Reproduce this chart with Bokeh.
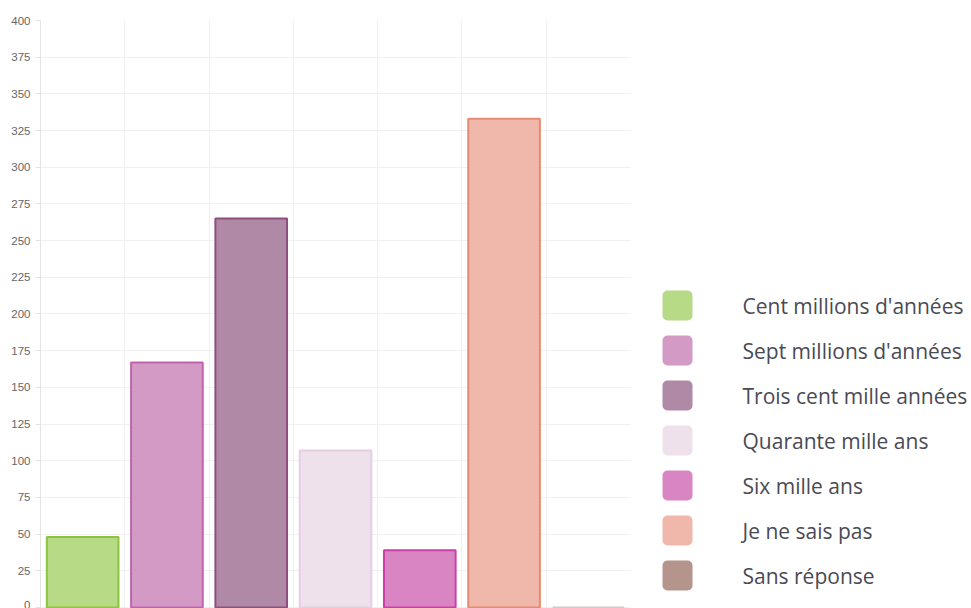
from bokeh.plotting import figure
from bokeh.layouts import row
from bokeh.models import Range1d, FixedTicker, ColumnDataSource
from bokeh.core.properties import value
from bokeh.embed import file_html
from bokeh.resources import INLINE

categories = ["Cent millions d'années", "Sept millions d'années", "Trois cent mille années",
              "Quarante mille ans", "Six mille ans", "Je ne sais pas", "Sans réponse"]
counts = [48, 167, 265, 107, 39, 333, 0]
fill_colors = ["#b6da86", "#d49ac6", "#b089a6", "#eee1eb", "#d985c3", "#f0b8aa", "#b4948b"]
line_colors = ["#8cc43f", "#c262ae", "#8e4f80", "#e6cde0", "#c940a6", "#e58a73", "#d9c8c3"]
y_ticks = list(range(0, 401, 25))

n = len(categories)
src = ColumnDataSource(dict(
    x=[i + 0.5 for i in range(n)], top=counts, cat=categories,
    fill=fill_colors, line=line_colors))

p = figure(width=640, height=608, output_backend="svg", toolbar_location=None,
           x_range=Range1d(0, n), y_range=Range1d(-0.7, 400),
           min_border_left=40, min_border_right=10, min_border_top=20, min_border_bottom=0)
p.outline_line_color = None
p.xaxis.visible = False
p.vbar(x="x", top="top", bottom=0, width=0.85, source=src,
       fill_color="fill", line_color="line", line_width=2)

p.yaxis.ticker = FixedTicker(ticks=y_ticks)
p.yaxis.major_label_text_font = "Liberation Sans"
p.yaxis.major_label_text_font_size = "11.5px"
p.yaxis.major_label_text_color = "#666666"
p.yaxis.axis_line_color = "#e4e4e4"
p.yaxis.major_tick_line_color = "#e4e4e4"
p.yaxis.major_tick_out = 5
p.yaxis.major_tick_in = 0
p.yaxis.minor_tick_line_color = None
p.yaxis.major_label_standoff = 5

p.ygrid.ticker = FixedTicker(ticks=y_ticks)
p.ygrid.grid_line_color = "#f0f0f0"
p.xgrid.ticker = FixedTicker(ticks=list(range(1, n)))
p.xgrid.grid_line_color = "#f0f0f0"

# legend figure in pixel coordinates (frame top aligned with main frame at 20px)
lw, lh = 331, 608
leg = figure(width=lw, height=lh, output_backend="svg", toolbar_location=None,
             x_range=Range1d(0, lw), y_range=Range1d(lh, 20),
             min_border=0, min_border_top=20)
leg.axis.visible = False
leg.grid.visible = False
leg.outline_line_color = None
yc = [305 + 45 * i for i in range(n)]
lsrc = ColumnDataSource(dict(
    left=[22] * n, right=[52] * n, top=[y - 15 for y in yc], bottom=[y + 15 for y in yc],
    fill=fill_colors, y=yc, tx=[102] * n, cat=categories))
leg.quad(left="left", right="right", top="top", bottom="bottom", source=lsrc,
         fill_color="fill", line_color=None, border_radius=5)
leg.text(x="tx", y="y", text="cat", source=lsrc, text_font=value("Open Sans"),
         text_font_size="21px", text_color="#4a4a54", text_baseline="middle")

layout = row(p, leg)
open("out.html", "w").write(file_html(layout, INLINE))
